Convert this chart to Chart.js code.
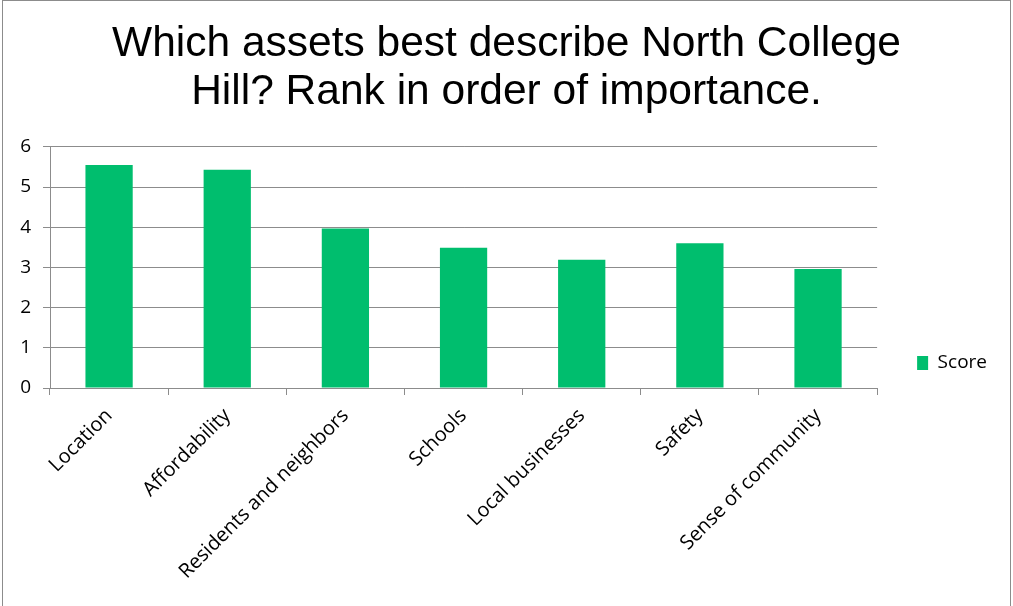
<!DOCTYPE html>
<html>
<head>
<meta charset="utf-8">
<script src="https://cdn.jsdelivr.net/npm/chart.js@4"></script>
<style>
    html, body { margin: 0; padding: 0; background: #fff; }
    #wrap { position: relative; width: 1013px; height: 606px; overflow: hidden; }
    #frame {
        position: absolute; left: 2px; top: 0; width: 1009px; height: 620px;
        border: 1px solid #8c8c8c; box-sizing: border-box; pointer-events: none;
    }
</style>
</head>
<body>
<div id="wrap">
    <canvas id="chartAssets"></canvas>
    <div id="frame"></div>
</div>
<script>
/* ---------- 数据 ---------- */
const categories = [
    "Location",
    "Affordability",
    "Residents and neighbors",
    "Schools",
    "Local businesses",
    "Safety",
    "Sense of community"
];
const scores = [5.55, 5.43, 3.97, 3.49, 3.19, 3.60, 2.96];
const seriesName = "Score";
const titleLines = [
    "Which assets best describe North College",
    "Hill? Rank in order of importance."
];
const yMin = 0;
const yMax = 6;
const yStep = 1;

const BAR_GREEN = "#00be6e";
const GRID_GRAY = "#8c8c8c";
const LABEL_FONT = { family: "Open Sans", size: 20 };
const LEGEND_GAP = 40;     // 绘图区右边到图例色块的距离
const LEGEND_RAISE = 25;   // 图例中心高出 x 轴的距离

/* --- 图例放到绘图区右下方 --- */
const legendPlace = {
    id: "legendPlace",
    afterLayout(chart) {
        const lg = chart.legend;
        const area = chart.chartArea;
        const pad = lg.options.labels.padding;
        const itemH = lg.legendHitBoxes.length ? lg.legendHitBoxes[0].height : 22;
        const w = lg.width, h = lg.height;
        lg.left = area.right + LEGEND_GAP - pad;
        lg.right = lg.left + w;
        lg.top = area.bottom - LEGEND_RAISE - itemH / 2 - pad;
        lg.bottom = lg.top + h;
    }
};

const ctx = document.getElementById("chartAssets");
new Chart(ctx, {
    type: "bar",
    data: {
        labels: categories,
        datasets: [{
            label: seriesName,
            data: scores,
            backgroundColor: BAR_GREEN,
            barPercentage: 0.4,
            categoryPercentage: 1.0
        }]
    },
    options: {
        responsive: true,
        maintainAspectRatio: false,
        animation: false,
        layout: { padding: 0 },
        plugins: {
            title: {
                display: true,
                text: titleLines,
                color: "#000",
                font: { family: "Liberation Sans", size: 42.5, weight: "normal", lineHeight: 1.14 },
                padding: { top: 20, bottom: 30 }
            },
            legend: {
                position: "right",
                align: "start",
                fullSize: false,
                labels: {
                    color: "#000",
                    font: { family: "Open Sans", size: 19 },
                    boxWidth: 11,
                    boxHeight: 14,
                    padding: 56
                }
            },
            tooltip: { enabled: false }
        },
        scales: {
            x: {
                grid: {
                    offset: true,
                    drawOnChartArea: false,
                    color: GRID_GRAY,
                    tickLength: 7
                },
                border: { color: GRID_GRAY, width: 1 },
                ticks: {
                    color: "#000",
                    font: LABEL_FONT,
                    minRotation: 45,
                    maxRotation: 45,
                    padding: 9
                },
                afterFit(scale) { scale.height = 218; }
            },
            y: {
                min: yMin,
                max: yMax,
                grid: { color: GRID_GRAY, tickLength: 7 },
                border: { color: GRID_GRAY, width: 1 },
                ticks: {
                    stepSize: yStep,
                    color: "#000",
                    font: { family: "Open Sans", size: 19 },
                    padding: 12
                },
                afterFit(scale) { scale.width = 50; }
            }
        }
    },
    plugins: [legendPlace]
});
</script>
</body>
</html>
